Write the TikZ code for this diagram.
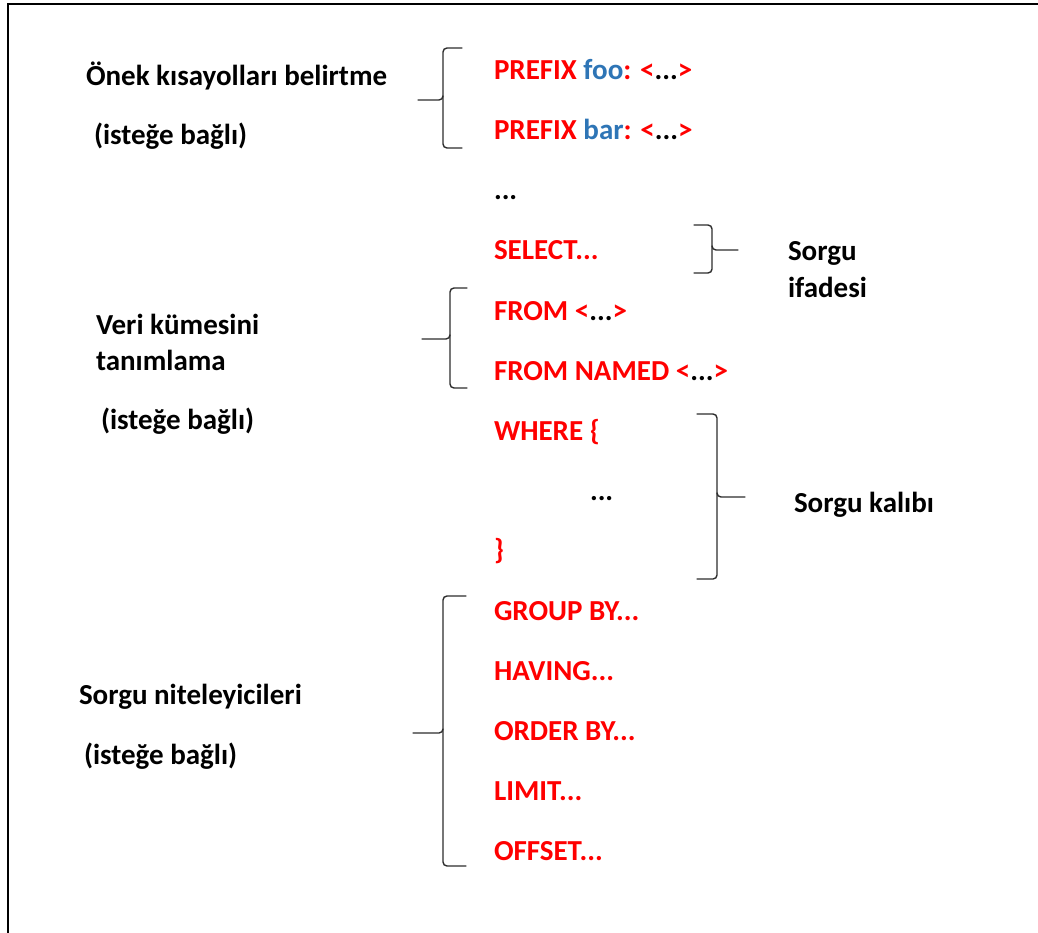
\documentclass[tikz,border=0pt]{standalone}
\usepackage{fontspec}
\setmainfont{Carlito}
\definecolor{kwred}{RGB}{255,0,0}
\definecolor{nsblue}{RGB}{46,117,182}
\definecolor{bracegray}{RGB}{45,45,45}
\begin{document}
\begin{tikzpicture}[x=1pt,y=-1pt,
  every node/.style={inner sep=0pt, outer sep=0pt},
  label/.style={anchor=base west, font=\fontsize{29}{34}\selectfont\bfseries, text=black},
  kw/.style={anchor=base west, font=\fontsize{29}{34}\selectfont\bfseries, text=kwred},
  brace/.style={draw=bracegray, line width=1.4pt, rounded corners=4pt, line cap=round}]
\useasboundingbox (0,0) rectangle (1038,933);
\fill[white] (0,0) rectangle (1038,933);
% frame edges
\draw[line width=2.5pt] (8,933) -- (8,4) -- (1038,4);

% query lines
\node[kw] (pfoo) at (494,80) {PREFIX \textcolor{nsblue}{foo}: <\textcolor{black}{...}>};
\node[kw] (pbar) at (494,140) {PREFIX \textcolor{nsblue}{bar}: <\textcolor{black}{...}>};
\node[label] (dots1) at (494,200) {...};
\node[kw] (sel) at (494,260) {SELECT...};
\node[kw] (from) at (494,320) {FROM <\textcolor{black}{...}>};
\node[kw] (fromn) at (494,380) {FROM NAMED <\textcolor{black}{...}>};
\node[kw] (where) at (494,440) {WHERE \{};
\node[label] (dots2) at (590,500) {...};
\node[kw] (close) at (494,559) {\}};
\node[kw] (group) at (494,620) {GROUP BY...};
\node[kw] (having) at (494,680) {HAVING...};
\node[kw] (order) at (494,740) {ORDER BY...};
\node[kw] (limit) at (494,800) {LIMIT...};
\node[kw] (offset) at (494,860) {OFFSET...};

% side labels
\node[label] (onek) at (86,86) {Önek kısayolları belirtme};
\node[label] (opt1) at (94,145) {(isteğe bağlı)};
\node[label] (veri) at (96,334) {Veri kümesini};
\node[label] (tanim) at (96,370) {tanımlama};
\node[label] (opt2) at (101,429) {(isteğe bağlı)};
\node[label] (nitel) at (79,704) {Sorgu niteleyicileri};
\node[label] (opt3) at (84,764) {(isteğe bağlı)};
\node[label] (sorgu) at (788,261) {Sorgu};
\node[label] (ifade) at (788,297) {ifadesi};
\node[label] (kalip) at (794,512) {Sorgu kalıbı};

% braces
\coordinate (b1) at (418,100);
\draw[brace] (462,48) -- (443,48) -- (443,100) -- (b1);
\draw[brace] (443,96) -- (443,148) -- (462,148);

\coordinate (b2) at (738,250);
\draw[brace] (694,225) -- (712,225) -- (712,250) -- (b2);
\draw[brace] (712,246) -- (712,273) -- (694,273);

\coordinate (b3) at (422,339);
\draw[brace] (467,288) -- (450,288) -- (450,339) -- (b3);
\draw[brace] (450,335) -- (450,388) -- (467,388);

\coordinate (b4) at (745,497);
\draw[brace] (697,414) -- (717,414) -- (717,497) -- (b4);
\draw[brace] (717,493) -- (717,579) -- (697,579);

\coordinate (b5) at (413,733);
\draw[brace] (466,596) -- (443,596) -- (443,733) -- (b5);
\draw[brace] (443,729) -- (443,866) -- (466,866);
\end{tikzpicture}
\end{document}
